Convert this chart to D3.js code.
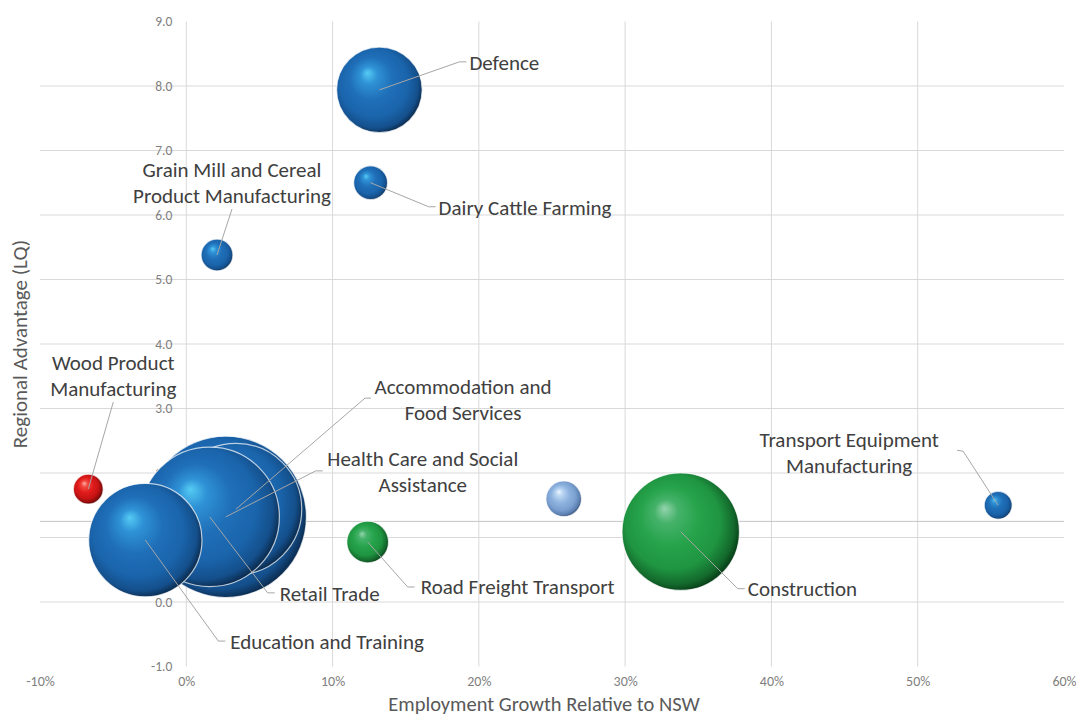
<!DOCTYPE html>
<html>
<head>
<meta charset="utf-8">
<script src="https://cdn.jsdelivr.net/npm/d3@7"></script>
<style>
  html, body { margin: 0; padding: 0; background: #fff; }
  svg text { font-family: Carlito, Calibri, Lato, sans-serif; }
</style>
</head>
<body>
<script>
// data
const industries = [
  "Defence",
  "Dairy Cattle Farming",
  "Grain Mill and Cereal Product Manufacturing",
  "Wood Product Manufacturing",
  "Health Care and Social Assistance",
  "Accommodation and Food Services",
  "Retail Trade",
  "Education and Training",
  "Road Freight Transport",
  "Unlabelled",
  "Construction",
  "Transport Equipment Manufacturing"
];
const growth = [13.2, 12.6, 2.1, -6.7, 2.7, 3.4, 1.6, -2.8, 12.4, 25.8, 33.8, 55.5]; // % vs NSW
const lq = [7.94, 6.5, 5.38, 1.75, 1.32, 1.44, 1.32, 0.96, 0.93, 1.6, 1.09, 1.5];
const jobs = [925, 145, 128, 112, 3280, 2180, 2450, 1620, 220, 160, 1740, 98];
const group = ["blue", "blue", "blue", "red", "blue", "blue", "blue", "blue", "green", "light", "green", "blue"];

const xTicks = [-10, 0, 10, 20, 30, 40, 50, 60];
const yTicks = [-1, 0, 1, 2, 3, 4, 5, 6, 7, 8, 9];
const lqLine = 1.25;

// label placement (offsets from bubble centre, px)
const labelLayout = {
  "Defence": { lines: ["Defence"], anchor: "start", dx: 90, dy: -27, leader: [[80, -28], [87, -28]] },
  "Dairy Cattle Farming": { lines: ["Dairy Cattle Farming"], anchor: "start", dx: 68, dy: 25, leader: [[58, 24], [65, 24]] },
  "Grain Mill and Cereal Product Manufacturing": { lines: ["Grain Mill and Cereal", "Product Manufacturing"], anchor: "middle", dx: 15, dy: -85, leader: [[15, -46]] },
  "Wood Product Manufacturing": { lines: ["Wood Product", "Manufacturing"], anchor: "middle", dx: 25, dy: -126, leader: [[25, -87]] },
  "Accommodation and Food Services": { lines: ["Accommodation and", "Food Services"], anchor: "middle", dx: 227, dy: -122, leader: [[129, -111], [135, -111]] },
  "Health Care and Social Assistance": { lines: ["Health Care and Social", "Assistance"], anchor: "middle", dx: 197, dy: -58, leader: [[90, -46], [97, -46]] },
  "Retail Trade": { lines: ["Retail Trade"], anchor: "start", dx: 70, dy: 77, leader: [[58, 76], [65, 76]] },
  "Education and Training": { lines: ["Education and Training"], anchor: "start", dx: 85, dy: 102, leader: [[73, 101], [80, 101]] },
  "Road Freight Transport": { lines: ["Road Freight Transport"], anchor: "start", dx: 53, dy: 45, leader: [[40, 45], [47, 45]] },
  "Construction": { lines: ["Construction"], anchor: "start", dx: 67, dy: 57, leader: [[57, 57], [64, 57]] },
  "Transport Equipment Manufacturing": { lines: ["Transport Equipment", "Manufacturing"], anchor: "middle", dx: -149, dy: -66, leader: [[-35, -54], [-41, -55]] }
};

const w = 1076;
const h = 715;
const plotLeft = 40, plotRight = 1064, plotTop = 21.5, plotBottom = 666.5;

const svg = d3.select("body").append("svg").attr("width", w).attr("height", h);

const x = d3.scaleLinear().domain([-10, 60]).range([plotLeft, plotRight]);
const y = d3.scaleLinear().domain([-1, 9]).range([plotBottom, plotTop]);
// Excel: biggest bubble diameter = 25% of plot height
const r = d3.scaleSqrt().domain([0, d3.max(jobs)]).range([0, (plotBottom - plotTop) * 0.125]);

// gradients for the 3D spheres
const palettes = {
  blue: ["#55ccf4", "#2f92d6", "#1f6fb8", "#1a64ab", "#144f8b", "#0a2747"],
  green: ["#95d4ae", "#45b26a", "#26a34b", "#1f9541", "#13692c", "#063814"],
  red: ["#ffb0a8", "#f24a40", "#e11b1b", "#c91414", "#8e0c0c", "#4c0404"],
  light: ["#eef7ff", "#b9d5f2", "#8eb3df", "#7aa0d0", "#5a7fb0", "#2d4568"]
};
const offsets = [0, 0.18, 0.45, 0.72, 0.9, 1];
const defs = svg.append("defs");
Object.keys(palettes).forEach((k) => {
  const g = defs.append("radialGradient").attr("id", "ball-" + k)
    .attr("cx", "0.46").attr("cy", "0.46").attr("r", "0.56")
    .attr("fx", "0.36").attr("fy", "0.3");
  palettes[k].forEach((c, i) => {
    g.append("stop").attr("offset", offsets[i]).attr("stop-color", c);
  });
});

// gridlines
svg.append("g")
  .selectAll("line")
  .data(yTicks.filter((d) => d > -1 && d < 9))
  .enter()
  .append("line")
  .attr("x1", plotLeft).attr("x2", plotRight)
  .attr("y1", (d) => y(d)).attr("y2", (d) => y(d))
  .attr("stroke", "#d9d9d9").attr("stroke-width", 1);

svg.append("g")
  .selectAll("line")
  .data(xTicks.filter((d) => d > -10 && d < 60))
  .enter()
  .append("line")
  .attr("x1", (d) => x(d)).attr("x2", (d) => x(d))
  .attr("y1", plotTop).attr("y2", plotBottom)
  .attr("stroke", "#d9d9d9").attr("stroke-width", 1);

svg.append("line")
  .attr("x1", plotLeft).attr("x2", plotRight)
  .attr("y1", y(lqLine)).attr("y2", y(lqLine))
  .attr("stroke", "#c4c4c4").attr("stroke-width", 1);

// y tick labels sit beside the 0% line
const yAxis = d3.axisLeft(y).tickValues(yTicks).tickFormat((d) => d.toFixed(1)).tickSize(0).tickPadding(14);
svg.append("g")
  .attr("transform", "translate(" + x(0) + ",0)")
  .call(yAxis)
  .call((g) => g.select(".domain").remove())
  .selectAll("text")
  .attr("fill", "#7f7f7f").style("font-size", "13.5px");

const xAxis = d3.axisBottom(x).tickValues(xTicks).tickFormat((d) => d + "%").tickSize(0).tickPadding(10);
svg.append("g")
  .attr("transform", "translate(0," + plotBottom + ")")
  .call(xAxis)
  .call((g) => g.select(".domain").remove())
  .selectAll("text")
  .attr("fill", "#7f7f7f").style("font-size", "14px");

// axis titles
svg.append("text")
  .attr("x", 544).attr("y", 711)
  .attr("text-anchor", "middle")
  .attr("fill", "#595959").style("font-size", "20.5px")
  .text("Employment Growth Relative to NSW");

svg.append("text")
  .attr("transform", "translate(27," + (plotTop + plotBottom) / 2 + ") rotate(-90)")
  .attr("text-anchor", "middle")
  .attr("fill", "#595959").style("font-size", "21px")
  .text("Regional Advantage (LQ)");

// bubbles
const rows = industries.map((name, i) => ({
  name: name, growth: growth[i], lq: lq[i], jobs: jobs[i], group: group[i]
}));

svg.append("g")
  .selectAll("circle")
  .data(rows)
  .enter()
  .append("circle")
  .attr("cx", (d) => x(d.growth))
  .attr("cy", (d) => y(d.lq))
  .attr("r", (d) => r(d.jobs))
  .attr("fill", (d) => "url(#ball-" + d.group + ")")
  .attr("stroke", "#ffffff").attr("stroke-opacity", 0.7).attr("stroke-width", 1.2);

// leader lines + labels
const labelled = rows.filter((d) => labelLayout[d.name]);

svg.append("g")
  .selectAll("polyline")
  .data(labelled)
  .enter()
  .append("polyline")
  .attr("points", (d) => {
    const cx = x(d.growth), cy = y(d.lq);
    const pts = [[cx, cy]].concat(labelLayout[d.name].leader.map((p) => [cx + p[0], cy + p[1]]));
    return pts.map((p) => p.join(",")).join(" ");
  })
  .attr("fill", "none").attr("stroke", "#a6a6a6").attr("stroke-width", 1);

const labels = svg.append("g")
  .selectAll("text")
  .data(labelled)
  .enter()
  .append("text")
  .attr("text-anchor", (d) => labelLayout[d.name].anchor)
  .attr("fill", "#404040").style("font-size", "21px");

labels.selectAll("tspan")
  .data((d) => labelLayout[d.name].lines.map((t, i) => ({ t: t, i: i, d: d })))
  .enter()
  .append("tspan")
  .attr("x", (o) => x(o.d.growth) + labelLayout[o.d.name].dx)
  .attr("y", (o) => y(o.d.lq) + labelLayout[o.d.name].dy + o.i * 26)
  .attr("dy", "0.35em")
  .text((o) => o.t);
</script>
</body>
</html>
